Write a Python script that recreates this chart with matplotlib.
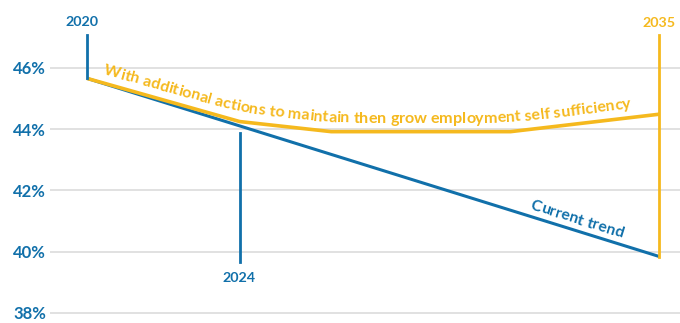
import numpy as np
import matplotlib
matplotlib.use("Agg")
import matplotlib.pyplot as plt
from matplotlib.font_manager import FontProperties, findfont, get_font
from matplotlib.transforms import IdentityTransform

# data
years_trend = [2020, 2035]
trend = [45.66, 39.84]
years_action = [2020, 2024, 2026.4, 2031.1, 2035]
action = [45.66, 44.25, 43.92, 43.92, 44.49]
yticks = [38, 40, 42, 44, 46]
milestones = ["2020", "2024", "2035"]

label_action = "With additional actions to maintain then grow employment self sufficiency"
label_trend = "Current trend"

BLUE = "#1170aa"
YELLOW = "#f5b91e"
FONT = "Lato"

plt.rcParams["font.family"] = [FONT, "DejaVu Sans"]

fig = plt.figure(figsize=(6.8, 3.23), dpi=100)
ax = fig.add_axes([50 / 680, 0, 630 / 680, 1])
ax.set_xlim(2019.03, 2035.54)
ax.set_ylim(37.67, 48.22)
for s in ax.spines.values():
    s.set_visible(False)
ax.set_xticks([])
ax.set_yticks(yticks)
ax.set_yticklabels([f"{v}%" for v in yticks])
ax.tick_params(axis="y", length=0, pad=3, labelsize=12, labelcolor=BLUE)
for t in ax.get_yticklabels():
    t.set_fontweight("bold")
ax.grid(axis="y", color="#dedede", lw=1.3)
ax.set_axisbelow(True)

ax.plot(years_trend, trend, color=BLUE, lw=2.2, zorder=3, solid_capstyle="butt")
ax.plot(years_action, action, color=YELLOW, lw=2.6, zorder=4, solid_capstyle="butt")

# milestone markers
ax.plot([2020, 2020], [trend[0], 47.08], color=BLUE, lw=2, zorder=5)
ax.plot([2024, 2024], [39.67, 43.88], color=BLUE, lw=2, zorder=5)
ax.plot([2035, 2035], [trend[-1], 47.08], color=YELLOW, lw=2, zorder=5)
ax.text(2019.88, 47.49, milestones[0], color=BLUE, fontsize=10.3, fontweight="bold",
        ha="center", va="center")
ax.text(2023.97, 39.14, milestones[1], color=BLUE, fontsize=10.3, fontweight="bold",
        ha="center", va="center")
ax.text(2035, 47.47, milestones[2], color=YELLOW, fontsize=10.3, fontweight="bold",
        ha="center", va="center")


def text_on_path(xs, ys, s, start, lift, size, color, smooth=50):
    """Lay text character by character along a (smoothed) line."""
    fig.canvas.draw()
    pts = ax.transData.transform(np.column_stack([xs, ys]))
    px = np.linspace(pts[0, 0], pts[-1, 0], 4000)
    py = np.interp(px, pts[:, 0], pts[:, 1])
    k = max(1, int(smooth / (px[1] - px[0])))
    padded = np.pad(py, k, mode="edge")
    py = np.convolve(padded, np.ones(k) / k, mode="same")[k:-k] + lift
    arc = np.concatenate([[0], np.cumsum(np.hypot(np.diff(px), np.diff(py)))])
    x0 = ax.transData.transform((start, 0))[0]
    pos = np.interp(x0, px, arc)

    prop = FontProperties(family=FONT, weight="bold", size=size)
    font = get_font(findfont(prop))
    font.set_size(size, fig.dpi)
    for c in s:
        adv = font.load_char(ord(c)).linearHoriAdvance / 65536
        mid = pos + adv / 2
        cx = np.interp(mid, arc, px)
        cy = np.interp(mid, arc, py)
        dx = np.interp(mid + 2, arc, px) - np.interp(mid - 2, arc, px)
        dy = np.interp(mid + 2, arc, py) - np.interp(mid - 2, arc, py)
        ang = np.degrees(np.arctan2(dy, dx))
        fig.text(cx, cy, c, transform=IdentityTransform(), color=color,
                 fontproperties=prop, ha="center", va="baseline",
                 rotation=ang, rotation_mode="anchor", zorder=6)
        pos += adv


text_on_path(years_action, action, label_action, 2020.42, 9, 11.6, YELLOW, smooth=60)
text_on_path(years_trend, trend, label_trend, 2031.6, 7, 11.4, BLUE, smooth=5)

fig.savefig("out.png", dpi=100)
